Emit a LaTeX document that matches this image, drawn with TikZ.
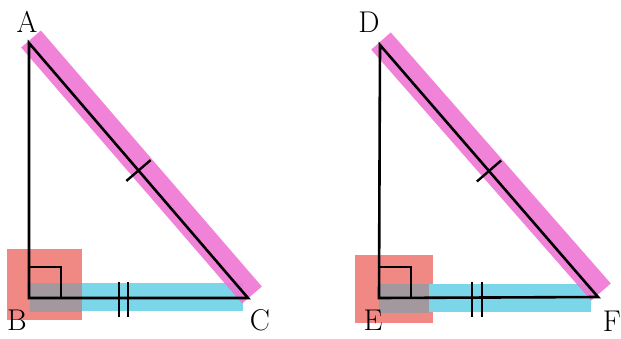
\documentclass[tikz,border=0pt]{standalone}
\usepackage{tikz}
\usetikzlibrary{calc}
\definecolor{hypcol}{RGB}{238,118,212}
\definecolor{legcol}{RGB}{122,214,232}
\definecolor{anglecol}{RGB}{240,136,132}
\definecolor{mixcol}{RGB}{162,152,158}

\begin{document}
\begin{tikzpicture}[x=1pt, y=-1pt, line width=2.6pt,
  lbl/.style={font=\fontsize{30}{32}\selectfont, inner sep=0pt},
  hypmark/.style={hypcol, line width=26pt, opacity=0.9}]
  \useasboundingbox (0,0) rectangle (621,338);

  % Triangle ABC
  \coordinate (A) at (29,43);
  \coordinate (B) at (29,298);
  \coordinate (C) at (248,298);
  \fill[anglecol] (7,249) rectangle (82,320);
  \fill[legcol] (30,283) rectangle (243,311);
  \fill[mixcol] (30,283) rectangle (82,312);
  \draw[hypmark] ($(A)+(2,-4)$) -- ($(C)+(4,-3)$);
  \draw (A) -- (B) -- (C) -- cycle;
  \draw[line width=2.2pt] ($(B)+(0,-31)$) -| ($(B)+(32,0)$);
  \coordinate (mAC) at ($(A)!0.5!(C)$);
  \draw[line width=2.4pt] ($(mAC)!16pt!90:(C)$) -- ($(mAC)!16pt!-90:(C)$);
  \draw[line width=2.2pt] (119,282) -- (119,317) (128,282) -- (128,317);
  \node[lbl] (labA) at (27,22) {A};
  \node[lbl] (labB) at (17,320) {B};
  \node[lbl] (labC) at (260,320) {C};

  % Triangle DEF
  \coordinate (D) at (380,45);
  \coordinate (E) at (379,298);
  \coordinate (F) at (598,297);
  \fill[anglecol] (355,255) rectangle (433,323);
  \fill[legcol] (379,284) rectangle (591,312);
  \fill[mixcol] (379,284) rectangle (429,313);
  \draw[hypmark] ($(D)+(1,-4)$) -- ($(F)+(3,-5)$);
  \draw (D) -- (E) -- (F) -- cycle;
  \draw[line width=2.2pt] ($(E)+(0,-31)$) -| ($(E)+(32,0)$);
  \coordinate (mDF) at ($(D)!0.5!(F)$);
  \draw[line width=2.4pt] ($(mDF)!16pt!90:(F)$) -- ($(mDF)!16pt!-90:(F)$);
  \draw[line width=2.2pt] (472,282) -- (472,317) (482,282) -- (482,317);
  \node[lbl] (labD) at (369,22) {D};
  \node[lbl] (labE) at (373,320) {E};
  \node[lbl] (labF) at (612,321) {F};
\end{tikzpicture}
\end{document}
